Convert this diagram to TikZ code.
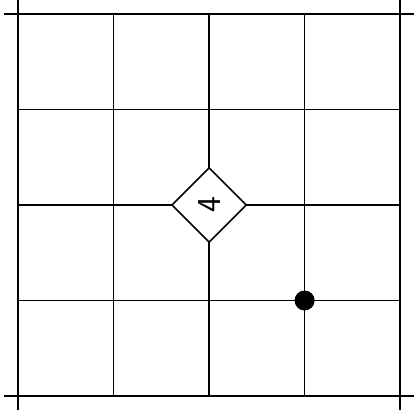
\documentclass[tikz,border=0pt]{standalone}
\usepackage{amsmath}
\usetikzlibrary{shapes.geometric}

\begin{document}
\begin{tikzpicture}[scale=2, line width=1pt]
  \useasboundingbox (-0.19,-0.22) rectangle (4.15,4.147);
  \draw (-0.15,0) -- (4.15,0);
  \draw (0,1) -- (4,1);
  \draw (0,2) -- (4,2);
  \draw (0,3) -- (4,3);
  \draw (-0.15,4) -- (4.15,4);
  \draw (0,-0.15) -- (0,4.15);
  \draw (1,0) -- (1,4);
  \draw (2,0) -- (2,4);
  \draw (3,0) -- (3,4);
  \draw (4,-0.15) -- (4,4.15);
  \node[diamond, draw, fill=white, aspect=1, inner sep=0pt, minimum size=1.57cm] (four) at (2,2) {};
  \node[rotate=90, font=\sffamily\fontsize{20}{24}\selectfont] at (four) {4};
  \node[circle, fill=black, inner sep=0pt, minimum size=0.42cm] (dot) at (3,1) {};
\end{tikzpicture}
\end{document}
